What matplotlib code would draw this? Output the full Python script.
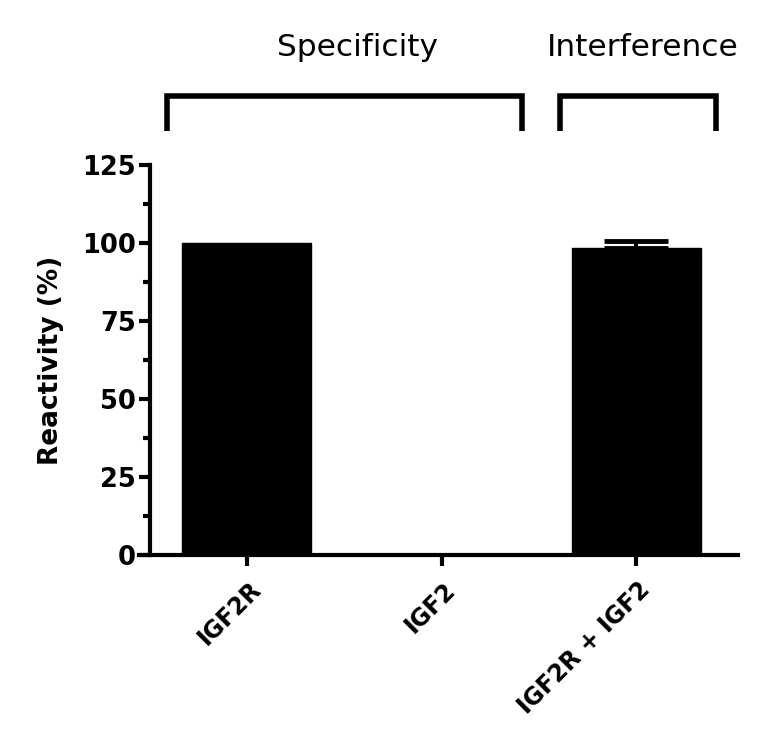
import matplotlib
matplotlib.use("Agg")
import matplotlib.pyplot as plt
from matplotlib.ticker import MultipleLocator
from matplotlib.transforms import ScaledTranslation

categories = ["IGF2R", "IGF2", "IGF2R + IGF2"]
values = [100.0, 0.0, 98.5]
errors = [0.0, 0.0, 2.0]
yticks = [0, 25, 50, 75, 100, 125]
group_names = ["Specificity", "Interference"]
group_spans = [(-0.411, 1.414), (1.609, 2.411)]
group_label_x = [0.566, 2.036]

plt.rcParams['font.family'] = ['DejaVu Sans']

fig = plt.figure(figsize=(7.68, 7.49), dpi=100)
ax = fig.add_axes([139/768, 1-555/749, (738-139)/768, (555-165)/749])

x = list(range(len(categories)))
ax.bar(x, values, width=0.663, color='black', edgecolor='black', zorder=2)
for xi, v, e in zip(x, values, errors):
    if e > 0:
        ax.errorbar(xi, v, yerr=[[0], [e]], fmt='none', ecolor='black',
                    elinewidth=3, capsize=23, capthick=3.5, zorder=3)

ax.set_ylim(0, 125)
ax.set_xlim(-0.555, 2.524)
ax.spines['left'].set_position(('data', -0.4987))
for s in ['top', 'right']:
    ax.spines[s].set_visible(False)
for s in ['left', 'bottom']:
    ax.spines[s].set_linewidth(3)
ax.set_yticks(yticks)
ax.yaxis.set_minor_locator(MultipleLocator(12.5))
ax.tick_params(axis='y', which='major', length=8, width=3, labelsize=18.5, pad=2)
ax.tick_params(axis='y', which='minor', length=5, width=3)
ax.tick_params(axis='x', which='major', length=8, width=3, labelsize=17, pad=8)
ax.set_xticks(x)
ax.set_xticklabels(categories, rotation=45, ha='right', rotation_mode='anchor', fontweight='bold')
off = ScaledTranslation(2/100, 0, fig.dpi_scale_trans)
for lbl in ax.get_xticklabels():
    lbl.set_transform(lbl.get_transform() + off)
for lbl in ax.get_yticklabels():
    lbl.set_fontweight('bold')
ax.set_ylabel("Reactivity (%)", fontsize=19, fontweight='bold', labelpad=13)

trans = ax.get_xaxis_transform()
for name, (x0, x1), lx in zip(group_names, group_spans, group_label_x):
    ax.plot([x0, x0, x1, x1], [1.087, 1.177, 1.177, 1.087], color='black', lw=4,
            transform=trans, clip_on=False, solid_joinstyle='miter', solid_capstyle='butt')
    ax.text(lx, 1.30, name, transform=trans, ha='center', va='center', fontsize=22.5)

fig.savefig("out.png", dpi=100)
